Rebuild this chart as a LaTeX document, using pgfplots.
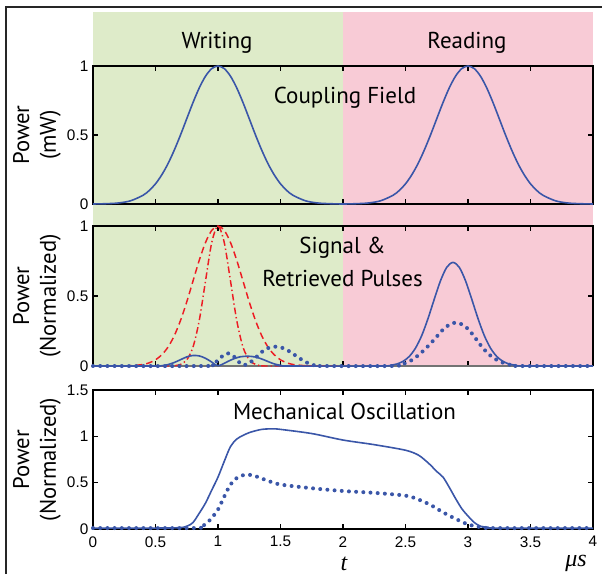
\documentclass[border=0pt]{standalone}
\usepackage{pgfplots}
\pgfplotsset{compat=1.18}
\usepackage{fontspec}
\setmainfont{Liberation Sans}
\newfontfamily\myriad{PT Sans}
\newfontfamily\tnr{Liberation Serif}

\definecolor{wgreen}{RGB}{222,235,201}
\definecolor{rpink}{RGB}{248,203,214}
\definecolor{mblue}{RGB}{58,86,168}
\definecolor{mred}{RGB}{237,28,36}

\pgfplotsset{
  panel/.style={
    scale only axis, width=375pt, anchor=south west,
    xmin=0, xmax=4, xtick={0,0.5,1,1.5,2,2.5,3,3.5,4},
    tick align=inside, major tick length=3.75pt,
    tick style={black, line width=1pt},
    axis line style={line width=1.2pt},
    clip=false,
    /pgf/number format/assume math mode=true,
    tick label style={font=\fontsize{11.5}{13}\selectfont},
    x tick label style={yshift=-2pt},
    ylabel style={font=\myriad\fontsize{17}{20}\selectfont, align=center,
      at={(axis description cs:-0.112,0.5)}, anchor=center},
  },
  bsolid/.style={mblue, line width=1.2pt, smooth},
  bdot/.style={mblue, line width=3pt, line cap=round, dash pattern=on 0pt off 5.4pt, smooth},
  rline/.style={mred, line width=1.1pt, smooth},
}

\begin{document}
\begin{tikzpicture}
\useasboundingbox (0,0) rectangle (451.5pt,430.5pt);
% outer frame (left and top only)
\draw[line width=1.5pt, black!85] (4.5pt,0) -- (4.5pt,425.25pt) -- (451.5pt,425.25pt);
% writing / reading backgrounds
\fill[wgreen] (69.75pt,156pt) rectangle (257.25pt,421.5pt);
\fill[rpink] (257.25pt,156pt) rectangle (444.75pt,421.5pt);
\node[font=\myriad\fontsize{17.25}{20}\selectfont, anchor=base] at (162.75pt,394.3pt) {Writing};
\node[font=\myriad\fontsize{17.25}{20}\selectfont, anchor=base] at (350.25pt,394.3pt) {Reading};

% top panel: coupling field
\begin{axis}[panel, at={(69.75pt,277.5pt)}, height=103.5pt,
  ymin=0, ymax=1, ytick={0,0.5,1}, xticklabels={},
  ylabel={Power\\(mW)}]
\addplot[bsolid] coordinates {
(0,0) (0.1,0.002) (0.2,0.007) (0.3,0.023) (0.4,0.063) (0.45,0.098) (0.5,0.146)
(0.55,0.211) (0.6,0.292) (0.65,0.390) (0.7,0.500) (0.75,0.618) (0.8,0.735)
(0.85,0.841) (0.9,0.926) (0.95,0.981) (1,1) (1.05,0.981) (1.1,0.926) (1.15,0.841)
(1.2,0.735) (1.25,0.618) (1.3,0.500) (1.35,0.390) (1.4,0.292) (1.45,0.211)
(1.5,0.146) (1.55,0.098) (1.6,0.063) (1.7,0.023) (1.8,0.007) (1.9,0.002) (2,0)
(2.1,0.002) (2.2,0.007) (2.3,0.023) (2.4,0.063) (2.45,0.098) (2.5,0.146)
(2.55,0.211) (2.6,0.292) (2.65,0.390) (2.7,0.500) (2.75,0.618) (2.8,0.735)
(2.85,0.841) (2.9,0.926) (2.95,0.981) (3,1) (3.05,0.981) (3.1,0.926) (3.15,0.841)
(3.2,0.735) (3.25,0.618) (3.3,0.500) (3.35,0.390) (3.4,0.292) (3.45,0.211)
(3.5,0.146) (3.55,0.098) (3.6,0.063) (3.7,0.023) (3.8,0.007) (3.9,0.002) (4,0)
};
\end{axis}
\node[font=\myriad\fontsize{17.25}{20}\selectfont, anchor=base] at (258.75pt,353pt) {Coupling Field};

% middle panel: signal and retrieved pulses
\begin{axis}[panel, at={(69.75pt,156pt)}, height=105pt,
  ymin=0, ymax=1, ytick={0,0.5,1}, xticklabels={},
  axis line style={draw=none},
  ylabel={Power\\(Normalized)}]
\draw[line width=1.2pt, black!55] (rel axis cs:0,0) -- (rel axis cs:1,0);
\draw[line width=1.2pt, black] (rel axis cs:0,0) -- (rel axis cs:0,1) -- (rel axis cs:1,1) -- (rel axis cs:1,0);
\addplot[rline, dash pattern=on 5pt off 3pt] coordinates {
(0,0) (0.2,0) (0.3,0.002) (0.4,0.011) (0.45,0.023) (0.5,0.044) (0.55,0.080)
(0.6,0.135) (0.65,0.216) (0.7,0.325) (0.75,0.458) (0.8,0.607) (0.85,0.755)
(0.9,0.882) (0.95,0.969) (1,1) (1.05,0.969) (1.1,0.882) (1.15,0.755) (1.2,0.607)
(1.25,0.458) (1.3,0.325) (1.35,0.216) (1.4,0.135) (1.45,0.080) (1.5,0.044)
(1.55,0.023) (1.6,0.011) (1.7,0.002) (1.8,0) (2,0)
};
\addplot[rline, dash pattern=on 5pt off 2.2pt on 1pt off 2.2pt] coordinates {
(0,0) (0.6,0) (0.65,0.002) (0.7,0.011) (0.75,0.044) (0.8,0.135) (0.85,0.325)
(0.9,0.607) (0.95,0.882) (1,1) (1.05,0.882) (1.1,0.607) (1.15,0.325) (1.2,0.135)
(1.25,0.044) (1.3,0.011) (1.35,0.002) (1.4,0) (2,0)
};
\addplot[bsolid] coordinates {
(0,0) (0.5,0) (0.55,0.002) (0.6,0.01) (0.65,0.025) (0.7,0.045) (0.75,0.065)
(0.8,0.075) (0.85,0.072) (0.9,0.055) (0.95,0.028) (0.98,0.008) (1.0,0.003)
(1.03,0.01) (1.08,0.033) (1.13,0.053) (1.18,0.066) (1.24,0.07) (1.3,0.064)
(1.35,0.05) (1.4,0.032) (1.45,0.015) (1.5,0.005) (1.55,0) (2.3,0)
(2.38,0.006) (2.43,0.014) (2.48,0.033) (2.53,0.068) (2.58,0.128) (2.63,0.218)
(2.68,0.339) (2.73,0.477) (2.78,0.609) (2.83,0.705) (2.88,0.74) (2.93,0.705)
(2.98,0.609) (3.03,0.477) (3.08,0.339) (3.13,0.218) (3.18,0.128) (3.23,0.068)
(3.28,0.033) (3.33,0.014) (3.38,0.006) (3.45,0) (4,0)
};
\addplot[bdot] coordinates {
(0,0) (0.9,0) (0.95,0.01) (1.0,0.04) (1.04,0.075) (1.08,0.09) (1.12,0.075)
(1.16,0.035) (1.2,0.006) (1.25,0.02) (1.3,0.058) (1.35,0.1) (1.4,0.128)
(1.46,0.138) (1.52,0.128) (1.57,0.105) (1.62,0.075) (1.67,0.045) (1.72,0.02)
(1.77,0.005) (1.82,0) (2.4,0) (2.45,0.008) (2.5,0.02) (2.55,0.042) (2.6,0.075)
(2.65,0.115) (2.7,0.16) (2.75,0.21) (2.8,0.26) (2.85,0.295) (2.9,0.31)
(2.95,0.298) (3.0,0.265) (3.05,0.21) (3.1,0.15) (3.15,0.098) (3.2,0.06)
(3.25,0.035) (3.3,0.017) (3.35,0.006) (3.4,0) (4,0)
};
\end{axis}
\node[font=\myriad\fontsize{17.25}{20}\selectfont, anchor=base] at (256.9pt,240.5pt) {Signal \&};
\node[font=\myriad\fontsize{17.25}{20}\selectfont, anchor=base] at (256.9pt,215.5pt) {Retrieved Pulses};

% bottom panel: mechanical oscillation
\begin{axis}[panel, at={(69.75pt,33.75pt)}, height=104.25pt,
  ymin=0, ymax=1.5, ytick={0,0.5,1,1.5},
  ylabel={Power\\(Normalized)}]
\addplot[bsolid] coordinates {
(0,0.01) (0.5,0.01) (0.7,0.015) (0.76,0.036) (0.8,0.07) (0.85,0.17) (0.9,0.28)
(0.95,0.42) (1.0,0.56) (1.05,0.73) (1.1,0.89) (1.15,0.97) (1.2,1.01) (1.25,1.04)
(1.3,1.06) (1.35,1.075) (1.4,1.08) (1.45,1.08) (1.5,1.075) (1.75,1.03) (2.0,0.96)
(2.25,0.91) (2.5,0.85) (2.6,0.8) (2.65,0.75) (2.7,0.69) (2.75,0.62) (2.8,0.56)
(2.85,0.45) (2.9,0.33) (2.95,0.22) (3.0,0.14) (3.05,0.07) (3.1,0.03) (3.15,0.02)
(3.2,0.01) (4,0.01)
};
\addplot[bdot] coordinates {
(0,0.01) (0.8,0.01) (0.85,0.02) (0.9,0.05) (0.95,0.12) (1.0,0.21) (1.05,0.35)
(1.1,0.48) (1.15,0.55) (1.2,0.58) (1.25,0.585) (1.3,0.57) (1.4,0.52) (1.5,0.48)
(1.75,0.44) (2.0,0.41) (2.25,0.39) (2.5,0.36) (2.6,0.32) (2.7,0.26) (2.8,0.18)
(2.9,0.11) (3.0,0.05) (3.1,0.02) (3.2,0.01) (4,0.01)
};
\end{axis}
\node[font=\myriad\fontsize{17.25}{20}\selectfont, anchor=base] at (258.4pt,115.5pt) {Mechanical Oscillation};
\node[font=\tnr\itshape\fontsize{18}{20}\selectfont, anchor=base] at (258pt,2.5pt) {t};
\node[font=\tnr\itshape\fontsize{18}{20}\selectfont, anchor=base] at (432pt,5.5pt) {μs};
\end{tikzpicture}
\end{document}
